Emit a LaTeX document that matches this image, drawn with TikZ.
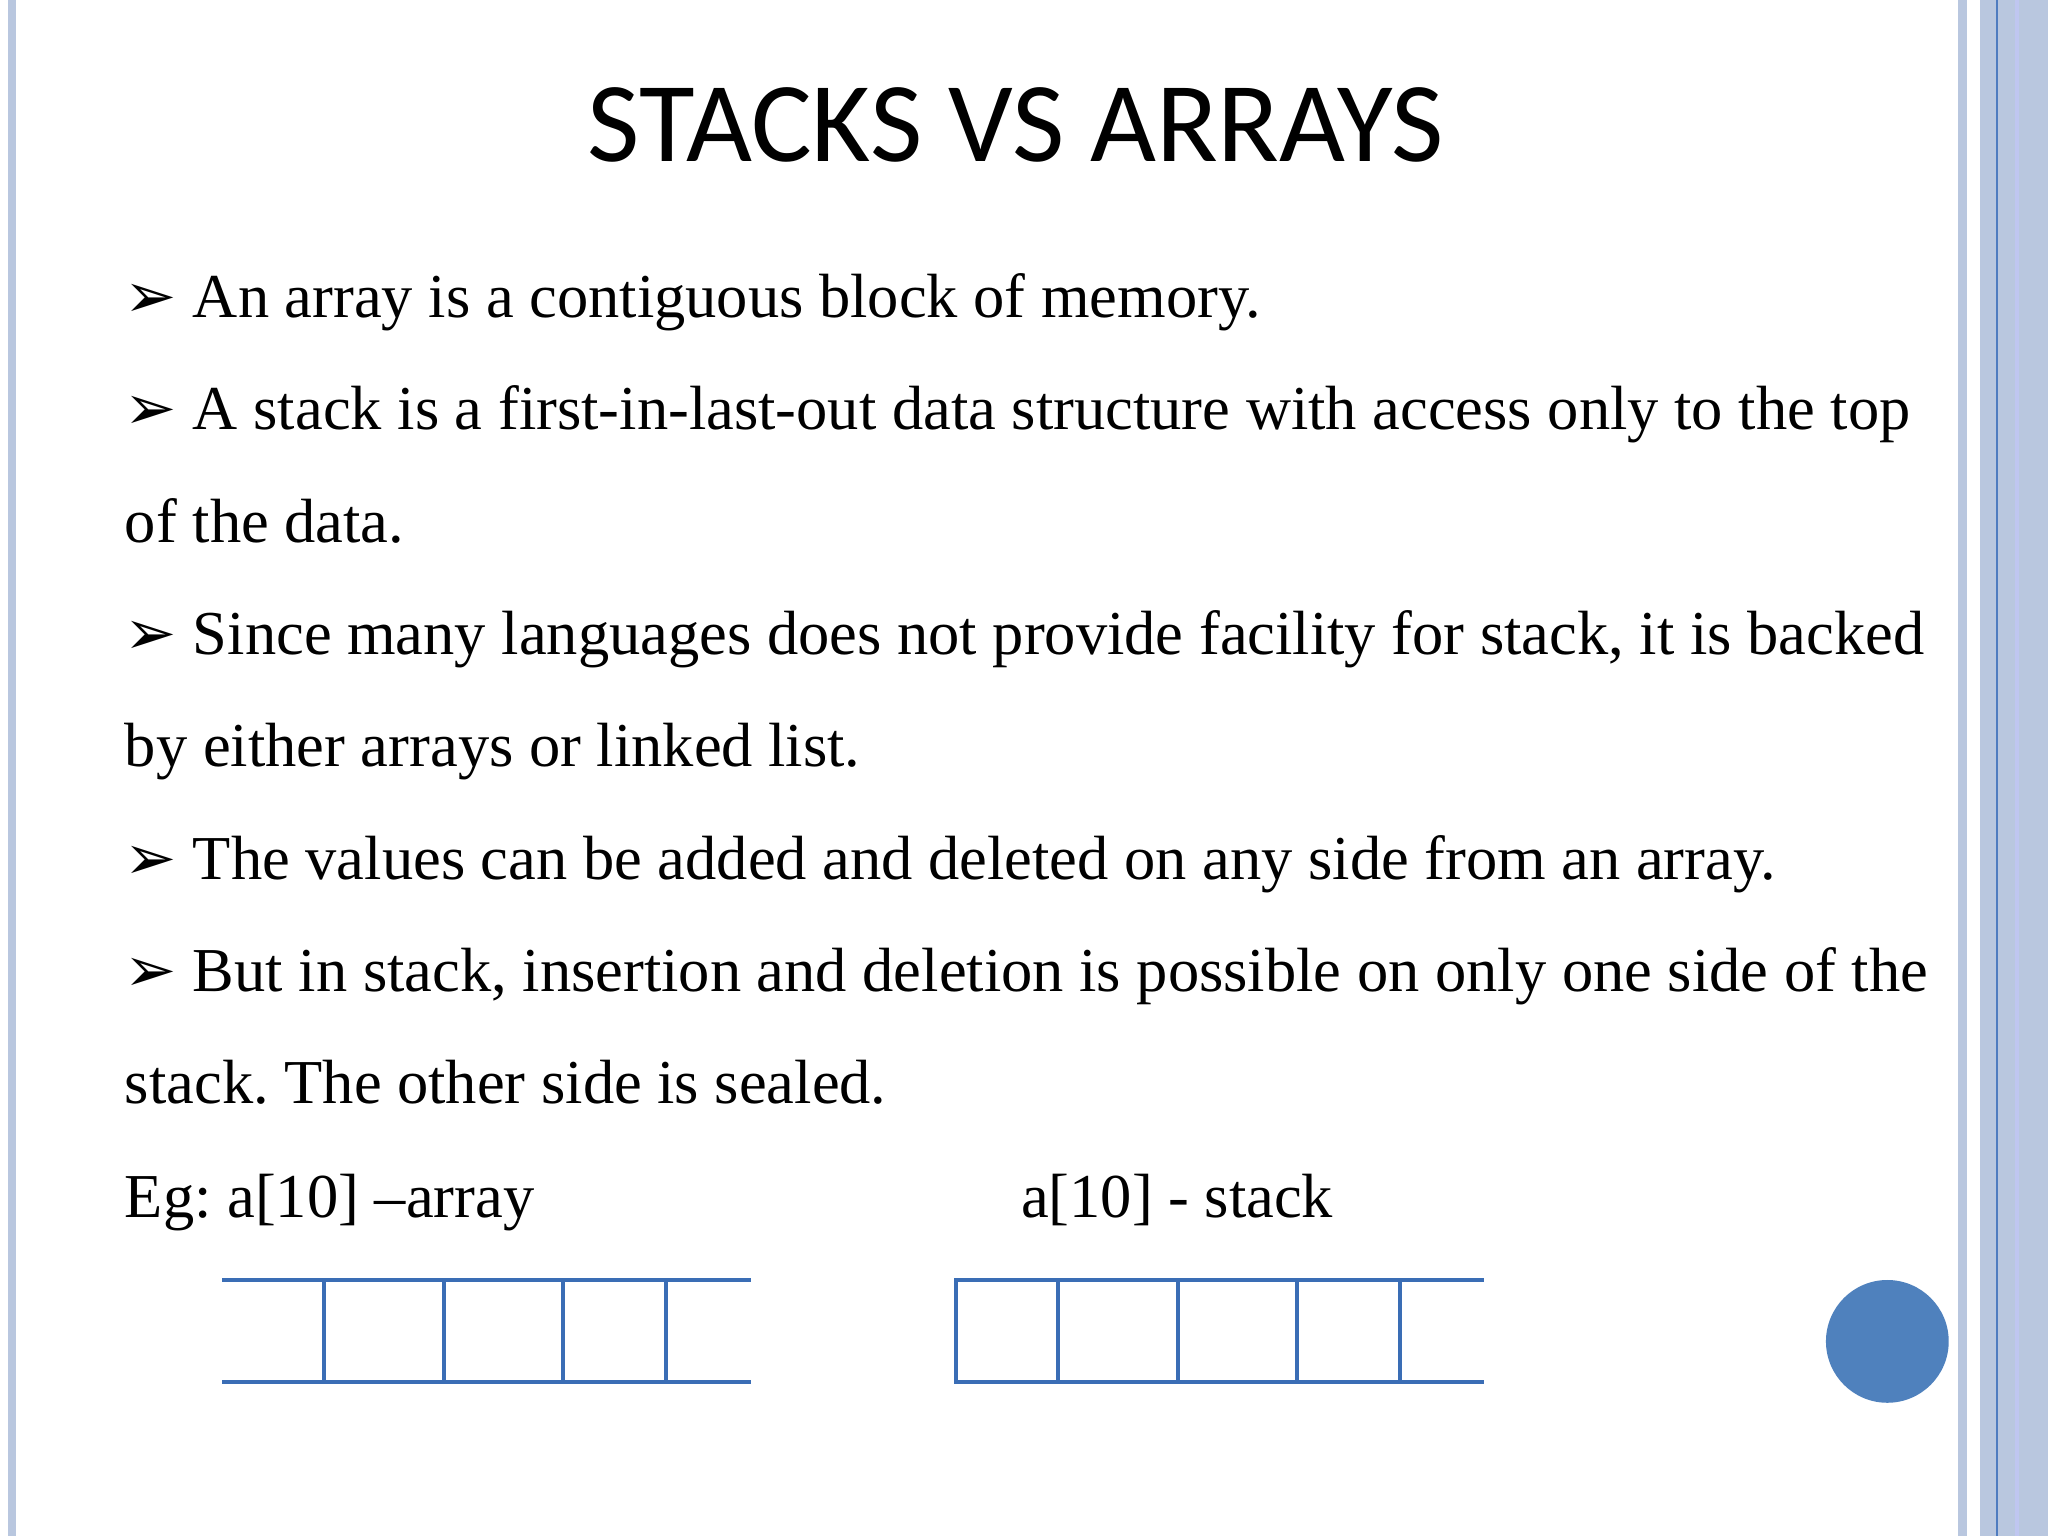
\documentclass[tikz,border=0pt]{standalone}
\usepackage{fontspec}
\setmainfont{Liberation Serif}
\newfontfamily\titlefont{Carlito}
\newfontfamily\symfont{DejaVu Sans}
\definecolor{cellblue}{HTML}{3A6DB5}
\definecolor{stripe}{HTML}{B9C7DF}
\definecolor{stripedark}{HTML}{4F7CC0}
\definecolor{circ}{HTML}{4F81BD}
\begin{document}
\begin{tikzpicture}[x=0.01cm,y=-0.01cm,
  body/.style={anchor=base west,inner sep=0pt,font=\fontsize{13.6pt}{15pt}\selectfont},
  cell/.style={draw=cellblue,line width=0.9pt}]
\frenchspacing
\useasboundingbox (0,0) rectangle (1568,1176);
\fill[white] (0,0) rectangle (1568,1176);
% borders
\fill[stripe] (6,0) rectangle (12,1176);
\fill[stripe] (1499,0) rectangle (1506,1176);
\fill[stripe] (1516,0) rectangle (1568,1176);
\fill[stripedark] (1528,0) rectangle (1530,1176);
\fill[stripe!80!blue!60] (1543,0) rectangle (1546,1176);
% title
\node[anchor=base,inner sep=0pt,font=\titlefont\fontsize{24.8pt}{28pt}\selectfont] (title) at (778,124) {STACKS VS ARRAYS};
% text
\node[body] (b1) at (95,243) {{\symfont\bfseries ➢} An array is a contiguous block of memory.};
\node[body] (b2) at (95,329) {{\symfont\bfseries ➢} A stack is a first-in-last-out data structure with access only to the top};
\node[body] (b2b) at (95,415) {of the data.};
\node[body] (b3) at (95,501) {{\symfont\bfseries ➢} Since many languages does not provide facility for stack, it is backed};
\node[body] (b3b) at (95,587) {by either arrays or linked list.};
\node[body] (b4) at (95,673) {{\symfont\bfseries ➢} The values can be added and deleted on any side from an array.};
\node[body] (b5) at (95,759) {{\symfont\bfseries ➢} But in stack, insertion and deletion is possible on only one side of the};
\node[body] (b5b) at (95,845) {stack. The other side is sealed.};
\node[body] (eg1) at (95,932) {Eg: a[10] –array};
\node[body] (eg2) at (781,932) {a[10] - stack};
% array
\draw[cell] (170,980) -- (575,980);
\draw[cell] (170,1058) -- (575,1058);
\foreach \x in {248,340,431,510} \draw[cell] (\x,980) -- (\x,1058);
% stack
\draw[cell] (1136,980) -- (732,980) -- (732,1058) -- (1136,1058);
\foreach \x in {810,902,993,1072} \draw[cell] (\x,980) -- (\x,1058);
% circle
\fill[circ] (1445,1027) circle (47);
\end{tikzpicture}
\end{document}
